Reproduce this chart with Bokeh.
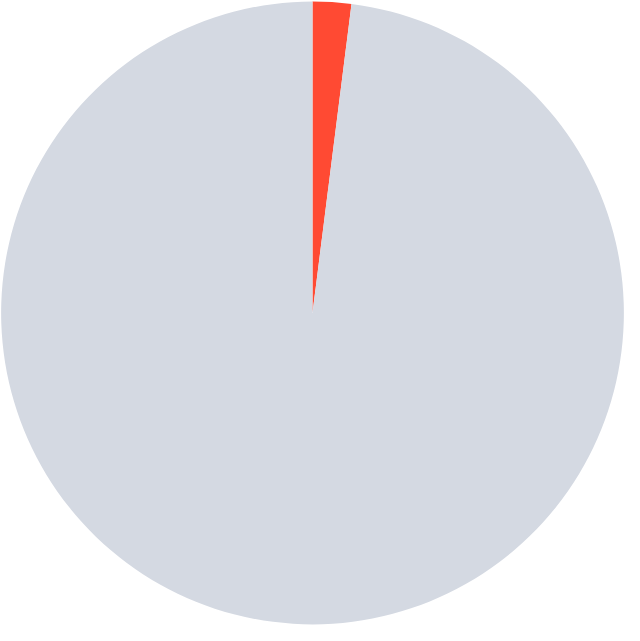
import math
from bokeh.plotting import figure
from bokeh.embed import file_html
from bokeh.resources import INLINE

labels = ["A", "B"]
values = [2, 98]
colors = ["#FF4A33", "#D4D9E2"]

total = sum(values)
starts, ends = [], []
acc = 0.0
for v in values:
    # clockwise from 12 o'clock
    a0 = math.pi / 2 - 2 * math.pi * acc / total
    acc += v
    a1 = math.pi / 2 - 2 * math.pi * acc / total
    starts.append(a1)
    ends.append(a0)

p = figure(width=624, height=625, output_backend="svg", toolbar_location=None,
           x_range=(-1.0, 1.0), y_range=(-1.0016, 1.0016), min_border=0)
p.wedge(x=0, y=0, radius=0.998, start_angle=starts, end_angle=ends,
        fill_color=colors, line_color=None)
p.axis.visible = False
p.grid.visible = False
p.outline_line_color = None
p.background_fill_color = "white"

open("out.html", "w").write(file_html(p, INLINE))
